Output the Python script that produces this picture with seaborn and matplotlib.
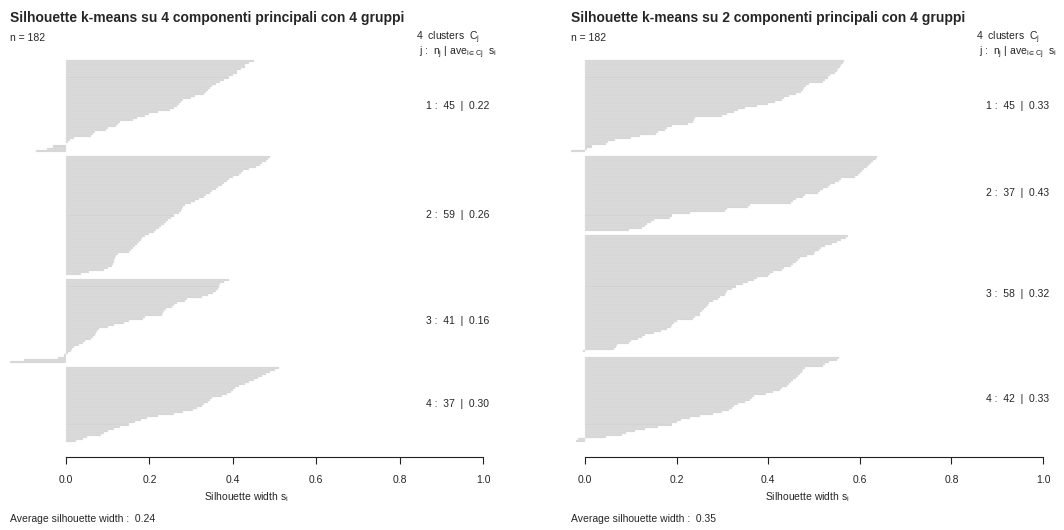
import numpy as np
import pandas as pd
import matplotlib
matplotlib.use("Agg")
import matplotlib.pyplot as plt
import matplotlib.transforms as mtrans
import seaborn as sns

# ---------------- data ----------------
titles = ["Silhouette k-means su 4 componenti principali con 4 gruppi",
          "Silhouette k-means su 2 componenti principali con 4 gruppi"]
n_total = 182

# left panel: silhouette widths per cluster (sorted, as drawn top->bottom)
left_c1 = [0.45, 0.44, 0.43, 0.43, 0.42, 0.41, 0.41, 0.40, 0.39, 0.38, 0.37, 0.36,
           0.35, 0.345, 0.34, 0.335, 0.33, 0.31, 0.30, 0.28, 0.275, 0.27, 0.265,
           0.26, 0.25, 0.22, 0.20, 0.19, 0.17, 0.16, 0.13, 0.125, 0.12, 0.10, 0.095,
           0.07, 0.065, 0.06, 0.02, 0.01, 0.005, 0.0, -0.03, -0.045, -0.072]
left_c2 = [0.49, 0.485, 0.48, 0.47, 0.465, 0.455, 0.44, 0.425, 0.42, 0.415, 0.40,
           0.39, 0.385, 0.38, 0.375, 0.365, 0.36, 0.35, 0.345, 0.335, 0.33, 0.32,
           0.31, 0.30, 0.285, 0.28, 0.278, 0.275, 0.27, 0.26, 0.252, 0.245, 0.24,
           0.235, 0.228, 0.222, 0.215, 0.21, 0.20, 0.19, 0.183, 0.18, 0.176, 0.17,
           0.165, 0.16, 0.155, 0.15, 0.125, 0.12, 0.118, 0.116, 0.114, 0.112, 0.11,
           0.10, 0.09, 0.055, 0.035]
left_c3 = [0.39, 0.38, 0.37, 0.367, 0.364, 0.36, 0.352, 0.34, 0.325, 0.29, 0.285,
           0.265, 0.26, 0.255, 0.24, 0.236, 0.233, 0.23, 0.19, 0.185, 0.15, 0.14,
           0.115, 0.10, 0.08, 0.075, 0.072, 0.07, 0.065, 0.06, 0.045, 0.04, 0.03,
           0.02, 0.015, 0.012, 0.005, -0.005, -0.02, -0.10, -0.135]
left_c4 = [0.51, 0.50, 0.49, 0.48, 0.47, 0.46, 0.45, 0.44, 0.43, 0.415, 0.405, 0.40,
           0.395, 0.385, 0.375, 0.35, 0.345, 0.34, 0.33, 0.325, 0.315, 0.305, 0.28,
           0.26, 0.22, 0.195, 0.18, 0.165, 0.15, 0.13, 0.115, 0.10, 0.09, 0.085,
           0.05, 0.04, 0.025]

# right panel
right_c1 = [0.565, 0.563, 0.56, 0.556, 0.553, 0.55, 0.545, 0.535, 0.53, 0.525, 0.52,
            0.49, 0.482, 0.478, 0.475, 0.472, 0.46, 0.445, 0.435, 0.43, 0.415, 0.40,
            0.375, 0.35, 0.335, 0.325, 0.31, 0.30, 0.24, 0.237, 0.235, 0.225, 0.19,
            0.18, 0.175, 0.16, 0.155, 0.12, 0.10, 0.065, 0.05, 0.045, 0.015, 0.005,
            -0.03]
right_c2 = [0.637, 0.635, 0.628, 0.625, 0.62, 0.615, 0.61, 0.605, 0.60, 0.595, 0.59,
            0.56, 0.555, 0.545, 0.535, 0.53, 0.52, 0.513, 0.508, 0.48, 0.475, 0.46,
            0.455, 0.45, 0.36, 0.355, 0.31, 0.305, 0.23, 0.19, 0.185, 0.15, 0.145,
            0.135, 0.13, 0.125, 0.095]
right_c3 = [0.575, 0.57, 0.56, 0.55, 0.54, 0.525, 0.515, 0.51, 0.503, 0.50, 0.485,
            0.47, 0.465, 0.46, 0.455, 0.45, 0.435, 0.43, 0.41, 0.405, 0.40, 0.375,
            0.37, 0.355, 0.345, 0.33, 0.32, 0.31, 0.307, 0.305, 0.295, 0.29, 0.28,
            0.27, 0.268, 0.265, 0.26, 0.255, 0.252, 0.25, 0.24, 0.235, 0.2, 0.195,
            0.19, 0.187, 0.18, 0.165, 0.15, 0.13, 0.125, 0.115, 0.10, 0.095, 0.07,
            0.067, 0.063, -0.004]
right_c4 = [0.555, 0.55, 0.532, 0.525, 0.52, 0.48, 0.475, 0.473, 0.47, 0.465, 0.46,
            0.455, 0.45, 0.445, 0.44, 0.43, 0.425, 0.41, 0.395, 0.37, 0.365, 0.36,
            0.35, 0.335, 0.325, 0.32, 0.314, 0.30, 0.28, 0.25, 0.23, 0.21, 0.2, 0.19,
            0.16, 0.13, 0.11, 0.09, 0.08, 0.045, -0.015, -0.02]

cluster_avg_left = [0.22, 0.26, 0.16, 0.30]
cluster_avg_right = [0.33, 0.43, 0.32, 0.33]
overall_avg = [0.24, 0.35]

tick_values = [0.0, 0.2, 0.4, 0.6, 0.8, 1.0]
tick_labels = ["0.0", "0.2", "0.4", "0.6", "0.8", "1.0"]

panels = [
    dict(clusters=[left_c1, left_c2, left_c3, left_c4], avgs=cluster_avg_left,
         avg=overall_avg[0], title=titles[0]),
    dict(clusters=[right_c1, right_c2, right_c3, right_c4], avgs=cluster_avg_right,
         avg=overall_avg[1], title=titles[1]),
]

# ---------------- styling ----------------
sns.set_style("white")
plt.rcParams["font.family"] = ["Liberation Sans", "DejaVu Sans"]
plt.rcParams["mathtext.fontset"] = "custom"
plt.rcParams["mathtext.rm"] = "Liberation Sans"
plt.rcParams["mathtext.it"] = "Liberation Sans"

W, H = 1064, 530
fig = plt.figure(figsize=(W / 100, H / 100), dpi=100)

px_zero = [66, 585]
px_one = [483, 1043]
top_px, bottom_px = 45, 457
FS = 7.5

GAP = 2
bar_color = "#d3d3d3"

for p, panel in enumerate(panels):
    clusters = panel["clusters"]
    all_vals = np.concatenate([np.asarray(c, float) for c in clusters])
    xmin = min(0.0, all_vals.min())
    ppu = px_one[p] - px_zero[p]
    left_px = px_zero[p] + xmin * ppu
    ax = fig.add_axes([left_px / W, 1 - bottom_px / H,
                       (px_one[p] - left_px) / W, (bottom_px - top_px) / H])

    rows = []
    offset = 0
    centers = []
    for k, c in enumerate(clusters):
        start = offset + k * GAP
        for i, v in enumerate(c):
            rows.append(dict(pos=start + i + 0.5, s=v, cluster=k + 1))
        centers.append(start + len(c) / 2)
        offset += len(c)
    df = pd.DataFrame(rows)
    total = offset + GAP * (len(clusters) - 1)

    sns.barplot(data=df, x="s", y="pos", orient="h", native_scale=True,
                color=bar_color, saturation=1, width=1.0, linewidth=0.25,
                edgecolor="#ebebeb", errorbar=None, ax=ax)

    ext = 0.04 * total
    ax.set_ylim(total + ext, -ext)
    ax.set_xlim(xmin, 1.0)

    for side in ["top", "right", "left"]:
        ax.spines[side].set_visible(False)
    ax.spines["bottom"].set_bounds(0, 1)
    ax.spines["bottom"].set_color("#222222")
    ax.spines["bottom"].set_linewidth(0.8)
    ax.set_yticks([])
    ax.set_ylabel("")
    ax.set_xticks(tick_values)
    ax.set_xticklabels(tick_labels, fontsize=FS)
    ax.tick_params(axis="x", direction="out", length=5, width=0.8, color="#222222",
                   pad=8, bottom=True)
    ax.set_xlabel(r"Silhouette width $\mathregular{s_i}$", fontsize=FS, labelpad=4)
    ax.grid(False)

    # titles / annotations
    fig.text(left_px / W, 1 - 18 / H, panel["title"], fontsize=10, fontweight="bold",
             ha="left", va="center")
    fig.text(left_px / W, 1 - 38 / H, f"n = {n_total}", fontsize=FS,
             ha="left", va="center")
    fig.text(left_px / W, 1 - 519 / H,
             f"Average silhouette width :  {panel['avg']:.2f}", fontsize=FS,
             ha="left", va="center")
    x1 = px_one[p]
    fig.text((x1 - 3) / W, 1 - 38 / H,
             rf"{len(clusters)}  clusters  $\mathregular{{C_j}}$",
             fontsize=FS, ha="right", va="center")
    fig.text(min(x1 + 14, W - 5) / W, 1 - 53 / H,
             r"j :  $\mathregular{n_j}$ | $\mathregular{ave_{i\in Cj}}$  $\mathregular{s_i}$",
             fontsize=FS, ha="right", va="center")

    tr = mtrans.blended_transform_factory(fig.transFigure, ax.transData)
    for k, c in enumerate(clusters):
        ax.text((x1 + 6) / W, centers[k],
                f"{k + 1} :  {len(c)}  |  {panel['avgs'][k]:.2f}",
                transform=tr, fontsize=FS, ha="right", va="center", clip_on=False)

fig.savefig("out.png", dpi=100)
